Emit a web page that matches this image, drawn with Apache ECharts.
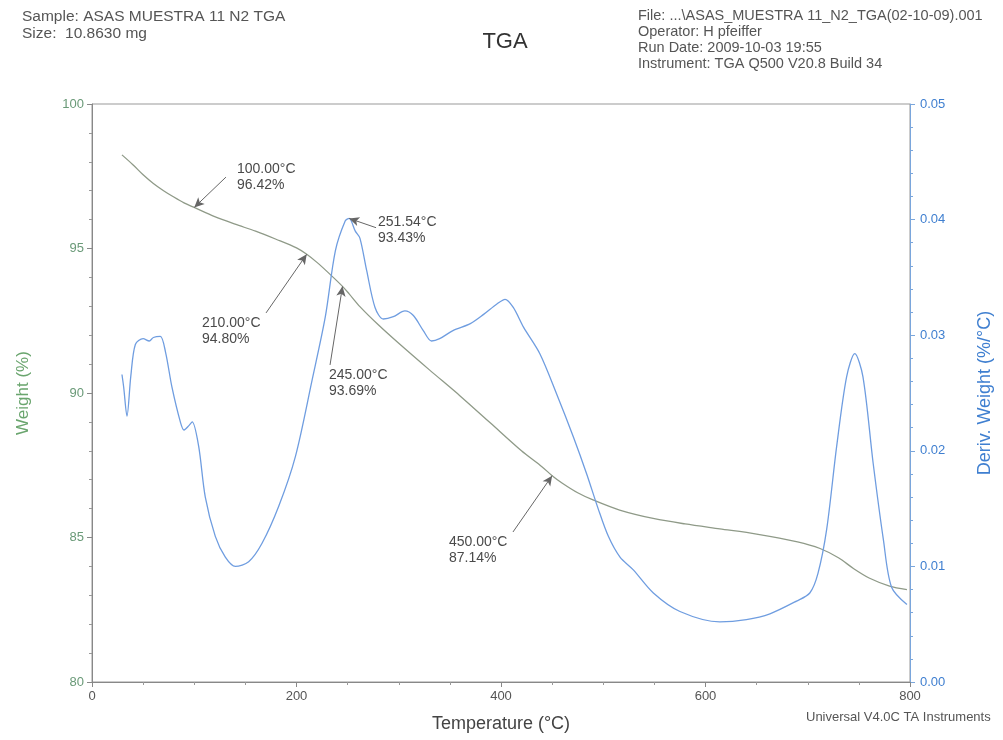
<!DOCTYPE html>
<html>
<head>
<meta charset="utf-8">
<script src="https://cdn.jsdelivr.net/npm/echarts@6/dist/echarts.min.js"></script>
<style>
html,body{margin:0;padding:0;background:#fff;}
#tga{width:1003px;height:740px;}
</style>
</head>
<body>
<div id="tga"></div>
<script>
// weight curve
var tempW = [29.3,40,50,60,70,80,90,100,120,140,160,180,200,210,220,230,245,251.5,262,280,300,330,360,390,420,440,450,460,475,490,516,550,580,614,650,690,712,730,745,760,780,797];
var weightPct = [98.24,97.9,97.55,97.25,97.0,96.78,96.58,96.42,96.1,95.84,95.6,95.32,95.02,94.8,94.52,94.2,93.69,93.43,92.99,92.36,91.72,90.8,89.9,88.95,88.0,87.45,87.14,86.88,86.55,86.3,85.95,85.65,85.47,85.3,85.12,84.85,84.62,84.3,83.92,83.6,83.32,83.2];
// derivative curve
var tempD = [29.3,31,34.2,38,42.4,50,56,60,66.8,72,78.2,86.4,90,95,98,104.3,110.8,120.6,130.4,140.2,153.2,166.3,182.6,198.9,215.2,228.2,238,247.7,251.5,257.5,262,268.6,276.8,284.9,294.7,306,314.3,324,332,340,353,370,383,396,404,412,422,438,454.5,470.8,483.8,495,505,516.4,529.4,549,575,614,640,663,689,702,710,718.5,728.3,738,746,754,764,774,782,797];
var derivW = [0.0266,0.0255,0.0230,0.0265,0.0292,0.0297,0.0295,0.0298,0.0299,0.0285,0.0255,0.0225,0.0218,0.0222,0.0225,0.0204,0.0160,0.0126,0.0108,0.0100,0.0104,0.0120,0.0152,0.0195,0.0261,0.0316,0.0373,0.0399,0.0401,0.0390,0.0384,0.0356,0.0324,0.0314,0.0316,0.0321,0.0317,0.0304,0.0295,0.0297,0.0304,0.0310,0.0318,0.0327,0.0331,0.0324,0.0307,0.0284,0.0249,0.0212,0.0180,0.0150,0.0126,0.0108,0.0097,0.0077,0.0061,0.0052,0.0054,0.0059,0.0070,0.0077,0.0094,0.0132,0.0204,0.0264,0.0284,0.0264,0.0189,0.0123,0.0082,0.0067];
// tick labels
var xTicks = [0,200,400,600,800];
var wTicks = [80,85,90,95,100];
var dTicks = [0.00,0.01,0.02,0.03,0.04,0.05];

// annotation points: point, text, arrow start, label anchor
var wNotes = [
	{pt:[100,96.42], txt:'100.00°C\n96.42%', from:[131,97.47], at:[141.8,98.03]},
	{pt:[210,94.80], txt:'210.00°C\n94.80%', from:[170.2,92.77], at:[107.6,92.70]},
	{pt:[245,93.69], txt:'245.00°C\n93.69%', from:[232.8,90.97], at:[231.8,90.90]},
	{pt:[450,87.14], txt:'450.00°C\n87.14%', from:[411.7,85.19], at:[349.1,85.12]}
];
var dNotes = [
	{pt:[251.54,0.0401], txt:'251.54°C\n93.43%', from:[277.8,0.0393], at:[279.7,0.0405]}
];

function pairs(xs, ys){
	var out = [];
	for(var i=0;i<xs.length;i++){ out.push([xs[i], ys[i]]); }
	return out;
}
function arrows(notes){
	return notes.map(function(n){ return [{coord:n.from},{coord:n.pt}]; });
}
function labels(notes){
	return notes.map(function(n){
		return {coord:n.at, value:n.txt};
	});
}

var txtFont = '"Liberation Sans", Arial, sans-serif';
var noteLabel = {
	show:true,
	position:[0,0],
	align:'left',
	verticalAlign:'top',
	color:'#4a4a4a',
	fontSize:14,
	lineHeight:16,
	fontFamily:txtFont,
	formatter:function(p){ return p.value; }
};
var arrowLine = {
	silent:true,
	symbol:['none','arrow'],
	symbolSize:[7,10],
	label:{show:false},
	lineStyle:{color:'#666',width:1,type:'solid'}
};

var chart = echarts.init(document.getElementById('tga'));
var option = {
	animation:false,
	textStyle:{fontFamily:txtFont},
	title:{
		text:'TGA',
		left:500,
		top:26,
		textAlign:'center',
		textStyle:{color:'#333',fontSize:22,fontWeight:'normal',fontFamily:txtFont}
	},
	graphic:[
		{type:'text',left:22,top:8,style:{text:'Sample: ASAS MUESTRA 11 N2 TGA\nSize:  10.8630 mg',fill:'#555',font:'15.5px '+txtFont,lineHeight:17}},
		{type:'text',left:638,top:8,style:{text:'File: ...\\ASAS_MUESTRA 11_N2_TGA(02-10-09).001\nOperator: H pfeiffer\nRun Date: 2009-10-03 19:55\nInstrument: TGA Q500 V20.8 Build 34',fill:'#555',font:'14.5px '+txtFont,lineHeight:16}},
		{type:'text',left:806,top:711,style:{text:'Universal V4.0C TA Instruments',fill:'#555',font:'13px '+txtFont}}
	],
	grid:{left:92,right:93,top:104,bottom:58,show:true,borderColor:'#999',borderWidth:1},
	xAxis:{
		type:'value',
		min:0,max:800,interval:200,
		name:'Temperature (°C)',
		nameLocation:'middle',
		nameGap:33,
		nameTextStyle:{color:'#444',fontSize:18,fontFamily:txtFont},
		axisLine:{show:true,lineStyle:{color:'#888',width:1}},
		axisTick:{show:true,length:5,lineStyle:{color:'#888'}},
		minorTick:{show:true,splitNumber:4,length:3,lineStyle:{color:'#999'}},
		axisLabel:{color:'#555',fontSize:13,margin:8,
			formatter:function(v){ return xTicks.indexOf(v)>=0 ? String(v) : ''; }},
		splitLine:{show:false}
	},
	yAxis:[
		{
			type:'value',
			position:'left',
			min:80,max:100,interval:5,
			name:'Weight (%)',
			nameLocation:'middle',
			nameGap:60,
			nameTextStyle:{color:'#6aa56e',fontSize:17,fontFamily:txtFont},
			axisLine:{show:true,lineStyle:{color:'#888',width:1}},
			axisTick:{show:true,length:5,lineStyle:{color:'#888'}},
			minorTick:{show:true,splitNumber:5,length:3,lineStyle:{color:'#999'}},
			axisLabel:{color:'#6a9a78',fontSize:13,margin:8,
				formatter:function(v){ return wTicks.indexOf(v)>=0 ? String(v) : ''; }},
			splitLine:{show:false}
		},
		{
			type:'value',
			position:'right',
			min:0,max:0.05,interval:0.01,
			name:'Deriv. Weight (%/°C)',
			nameLocation:'middle',
			nameGap:66,
			nameTextStyle:{color:'#3f7fd0',fontSize:18,fontFamily:txtFont},
			axisLine:{show:true,lineStyle:{color:'#7aa6dc',width:1}},
			axisTick:{show:true,length:5,lineStyle:{color:'#7aa6dc'}},
			minorTick:{show:true,splitNumber:5,length:3,lineStyle:{color:'#7aa6dc'}},
			axisLabel:{color:'#3f7fd0',fontSize:13,margin:10,
				formatter:function(v){ return v.toFixed(2); }},
			splitLine:{show:false}
		}
	],
	series:[
		{
			name:'Weight',
			type:'line',
			yAxisIndex:0,
			data:pairs(tempW, weightPct),
			smooth:0.3,
			showSymbol:false,
			lineStyle:{color:'#8f9a88',width:1.3},
			markLine:Object.assign({data:arrows(wNotes)}, arrowLine),
			markPoint:{silent:true,symbol:'circle',symbolSize:0,label:noteLabel,data:labels(wNotes)}
		},
		{
			name:'Deriv. Weight',
			type:'line',
			yAxisIndex:1,
			data:pairs(tempD, derivW),
			smooth:0.3,
			showSymbol:false,
			lineStyle:{color:'#6f9de0',width:1.3},
			markLine:Object.assign({data:arrows(dNotes)}, arrowLine),
			markPoint:{silent:true,symbol:'circle',symbolSize:0,label:noteLabel,data:labels(dNotes)}
		}
	]
};
chart.setOption(option);
</script>
</body>
</html>
